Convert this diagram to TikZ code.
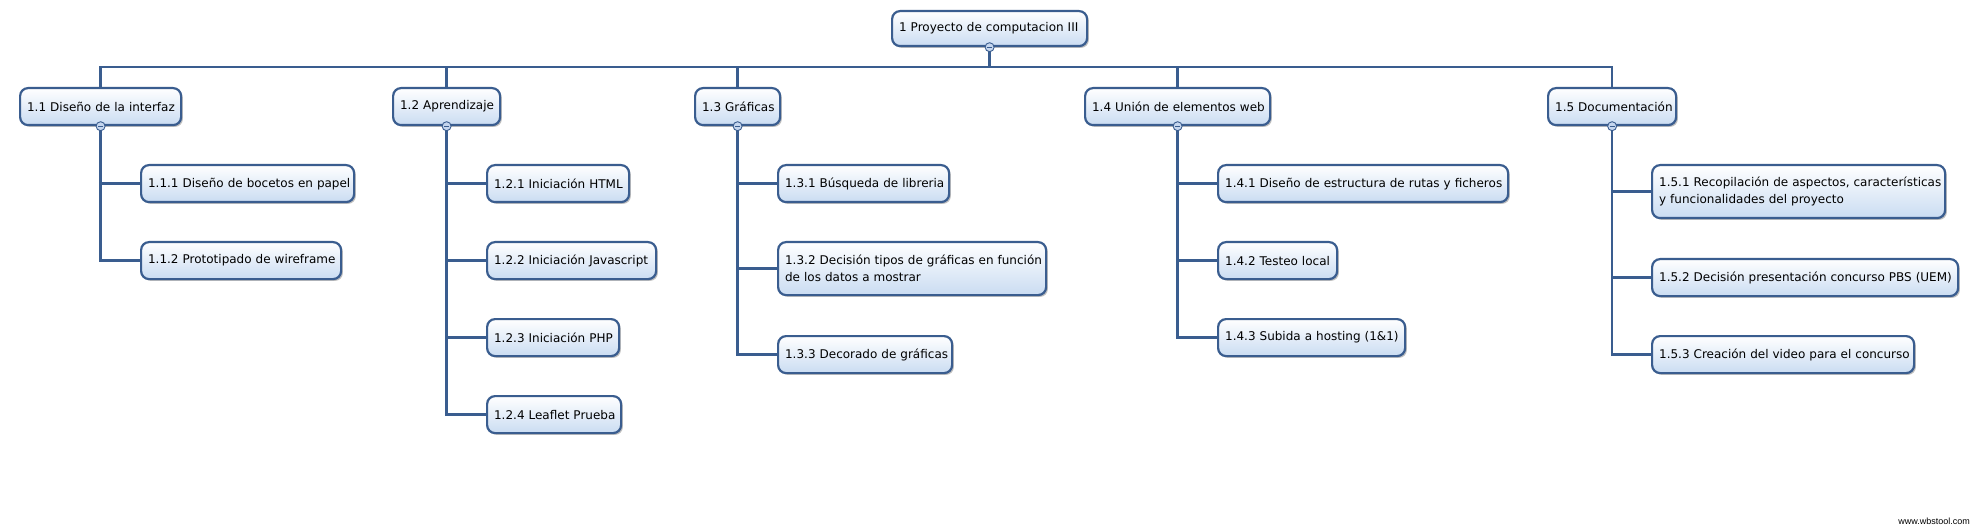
\documentclass[tikz,border=0pt]{standalone}
\usepackage{fontspec}
\setmainfont{DejaVu Sans}
\newfontfamily\wmfont{Liberation Sans}
\usetikzlibrary{shadows,calc}
\definecolor{lineblue}{HTML}{3A5D8F}
\definecolor{fillblue}{HTML}{CADCF2}
\definecolor{circfill}{HTML}{C5D6EE}
\pgfdeclarelayer{background}
\pgfsetlayers{background,main}
\tikzset{
  box/.style={draw=lineblue, line width=2.2pt, rounded corners=8pt,
    top color=white, bottom color=fillblue, anchor=north west,
    inner xsep=7pt, inner ysep=0pt, align=left, text=black,
    font=\fontsize{12}{17}\selectfont,
    drop shadow={shadow xshift=1.8pt, shadow yshift=-1.8pt, fill=black, opacity=0.25}},
  conn/.style={draw=lineblue, line width=2.4pt},
  circ/.style={circle, draw=lineblue, fill=circfill, line width=0.9pt,
    minimum size=9pt, inner sep=0pt,
    path picture={\draw[lineblue, line width=1.3pt]
      ([xshift=-2.6pt]path picture bounding box.center) --
      ([xshift=2.6pt]path picture bounding box.center);}}
}
\begin{document}
\begin{tikzpicture}[x=1pt,y=-1pt]
\useasboundingbox (0,0) rectangle (1977,529);
% root
\node[box, text width=181pt, minimum height=35pt] (root) at (891,10) {\mbox{1 Proyecto de computacion III}};
% level 1
\node[box, text width=147pt, minimum height=37pt] (n11) at (19,87) {\mbox{1.1 Diseño de la interfaz}};
\node[box, text width=93pt, minimum height=37pt] (n12) at (392,87) {\mbox{1.2 Aprendizaje}};
\node[box, text width=71pt, minimum height=37pt] (n13) at (694,87) {\mbox{1.3 Gráficas}};
\node[box, text width=171pt, minimum height=37pt] (n14) at (1084,87) {\mbox{1.4 Unión de elementos web}};
\node[box, text width=114pt, minimum height=37pt] (n15) at (1547,87) {\mbox{1.5 Documentación}};
% level 2
\node[box, text width=199pt, minimum height=37pt] (n111) at (140,164) {\mbox{1.1.1 Diseño de bocetos en papel}};
\node[box, text width=186pt, minimum height=37pt] (n112) at (140,241) {\mbox{1.1.2 Prototipado de wireframe}};
\node[box, text width=128pt, minimum height=37pt] (n121) at (486,164) {\mbox{1.2.1 Iniciación HTML}};
\node[box, text width=155pt, minimum height=37pt] (n122) at (486,241) {\mbox{1.2.2 Iniciación Javascript}};
\node[box, text width=118pt, minimum height=37pt] (n123) at (486,318) {\mbox{1.2.3 Iniciación PHP}};
\node[box, text width=120pt, minimum height=37pt] (n124) at (486,395) {\mbox{1.2.4 Leaflet Prueba}};
\node[box, text width=157pt, minimum height=37pt] (n131) at (777,164) {\mbox{1.3.1 Búsqueda de libreria}};
\node[box, text width=254pt, minimum height=53pt] (n132) at (777,241) {\mbox{1.3.2 Decisión tipos de gráficas en función}\\\mbox{de los datos a mostrar}};
\node[box, text width=160pt, minimum height=37pt] (n133) at (777,335) {\mbox{1.3.3 Decorado de gráficas}};
\node[box, text width=276pt, minimum height=37pt] (n141) at (1217,164) {\mbox{1.4.1 Diseño de estructura de rutas y ficheros}};
\node[box, text width=105pt, minimum height=37pt] (n142) at (1217,241) {\mbox{1.4.2 Testeo local}};
\node[box, text width=173pt, minimum height=37pt] (n143) at (1217,318) {\mbox{1.4.3 Subida a hosting (1\&1)}};
\node[box, text width=279pt, minimum height=53pt] (n151) at (1651,164) {\mbox{1.5.1 Recopilación de aspectos, características}\\\mbox{y funcionalidades del proyecto}};
\node[box, text width=292pt, minimum height=37pt] (n152) at (1651,258) {\mbox{1.5.2 Decisión presentación concurso PBS (UEM)}};
\node[box, text width=248pt, minimum height=37pt] (n153) at (1651,335) {\mbox{1.5.3 Creación del video para el concurso}};
% connectors
\coordinate (bus) at (0,67);
\begin{pgfonlayer}{background}
\fill[white] (0,0) rectangle (1977,529);
\draw[conn] (n11.north) -- (n11.north |- bus) -- (n15.north |- bus) -- (n15.north);
\draw[conn] (root.south) -- (root.south |- bus);
\draw[conn] (n12.north) -- (n12.north |- bus);
\draw[conn] (n13.north) -- (n13.north |- bus);
\draw[conn] (n14.north) -- (n14.north |- bus);
% 1.1
\draw[conn] (n11.south) |- (n112.west);
\draw[conn] (n11.south |- n111.west) -- (n111.west);
% 1.2
\draw[conn] (n12.south) |- (n124.west);
\draw[conn] (n12.south |- n121.west) -- (n121.west);
\draw[conn] (n12.south |- n122.west) -- (n122.west);
\draw[conn] (n12.south |- n123.west) -- (n123.west);
% 1.3
\draw[conn] (n13.south) |- (n133.west);
\draw[conn] (n13.south |- n131.west) -- (n131.west);
\draw[conn] (n13.south |- n132.west) -- (n132.west);
% 1.4
\draw[conn] (n14.south) |- (n143.west);
\draw[conn] (n14.south |- n141.west) -- (n141.west);
\draw[conn] (n14.south |- n142.west) -- (n142.west);
% 1.5
\draw[conn] (n15.south) |- (n153.west);
\draw[conn] (n15.south |- n151.west) -- (n151.west);
\draw[conn] (n15.south |- n152.west) -- (n152.west);
\end{pgfonlayer}
% collapse markers
\node[circ] (c0) at (root.south) {};
\node[circ] (c1) at (n11.south) {};
\node[circ] (c2) at (n12.south) {};
\node[circ] (c3) at (n13.south) {};
\node[circ] (c4) at (n14.south) {};
\node[circ] (c5) at (n15.south) {};
% watermark
\node[anchor=base east, inner sep=0pt, font=\wmfont\fontsize{9}{10}\selectfont] (wm) at (1970,524) {www.wbstool.com};
\end{tikzpicture}
\end{document}
